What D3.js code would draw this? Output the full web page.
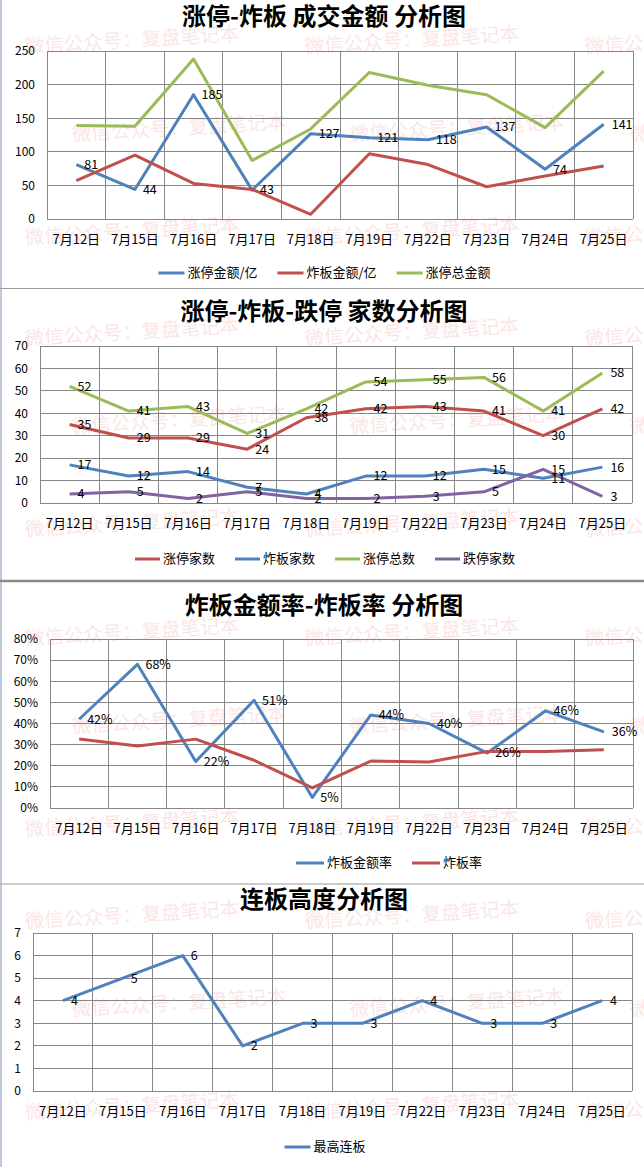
<!DOCTYPE html>
<html><head><meta charset="utf-8">
<script src="https://cdn.jsdelivr.net/npm/d3@7"></script>
<style>
html,body{margin:0;padding:0;background:#fff;}
svg{display:block;}
text{font-family:"Noto Sans CJK SC","Noto Sans",sans-serif;}
</style></head>
<body>
<svg id="c" width="644" height="1167"></svg>
<script>
// ---------- data ----------
const dates = ["7月12日","7月15日","7月16日","7月17日","7月18日","7月19日","7月22日","7月23日","7月24日","7月25日"];

const ztAmount      = [81, 44, 185, 43, 127, 121, 118, 137, 74, 141];   // 涨停金额/亿
const zbAmount      = [57, 95, 53, 44, 7, 97, 81, 48, 64, 79];          // 炸板金额/亿
const ztTotalAmount = [139, 138, 238, 87, 134, 218, 199, 185, 136, 220]; // 涨停总金额

const ztCount = [35, 29, 29, 24, 38, 42, 43, 41, 30, 42]; // 涨停家数
const zbCount = [17, 12, 14, 7, 4, 12, 12, 15, 11, 16];   // 炸板家数
const ztTotal = [52, 41, 43, 31, 42, 54, 55, 56, 41, 58]; // 涨停总数
const dtCount = [4, 5, 2, 5, 2, 2, 3, 5, 15, 3];          // 跌停家数

const zbAmountRate = [0.42, 0.68, 0.22, 0.51, 0.05, 0.44, 0.40, 0.26, 0.46, 0.36]; // 炸板金额率
const zbRate       = [0.327, 0.293, 0.326, 0.226, 0.095, 0.222, 0.218, 0.268, 0.268, 0.276]; // 炸板率

const maxBoard = [4, 5, 6, 2, 3, 3, 4, 3, 3, 4]; // 最高连板

const ticks1 = [0, 50, 100, 150, 200, 250];
const ticks2 = [0, 10, 20, 30, 40, 50, 60, 70];
const ticks3 = [0, 0.1, 0.2, 0.3, 0.4, 0.5, 0.6, 0.7, 0.8];
const ticks4 = [0, 1, 2, 3, 4, 5, 6, 7];

const titles = ["涨停-炸板 成交金额 分析图", "涨停-炸板-跌停 家数分析图", "炸板金额率-炸板率 分析图", "连板高度分析图"];
const watermark = "微信公众号：复盘笔记本";

const C = {blue:"#4F81BD", red:"#C0504D", green:"#9BBB59", purple:"#8064A2"};

const svg = d3.select("#c");

// page frame
svg.append("line").attr("x1",1).attr("x2",1).attr("y1",0).attr("y2",1167).attr("stroke","#a9b8cc").attr("stroke-width",1.5);
[[288.5,1.2,"#9a9a9a"],[581,2.5,"#8a8a8a"],[884,1.2,"#9a9a9a"]].forEach(([y,w,c])=>{
  svg.append("line").attr("x1",0).attr("x2",644).attr("y1",y).attr("y2",y).attr("stroke",c).attr("stroke-width",w);
});

function drawChart(cfg){
  const g = svg.append("g");
  // watermark
  const wm = g.append("g");
  const rows = [[50,[25,305,585]],[138,[72,350,630]],[241,[25,305,585]]];
  rows.forEach(([dy,xs])=>xs.forEach(x=>{
    const y = cfg.wmBase + dy;
    wm.append("text").attr("x",x).attr("y",y).attr("dominant-baseline","middle")
      .attr("transform",`rotate(-3.5,${x},${y})`)
      .attr("font-size",19.5).attr("fill","#fbe6e6").text(watermark);
  }));

  const {left,right,top,bottom} = cfg.plot;
  const x = d3.scaleBand().domain(dates).range([left,right]).paddingInner(0).paddingOuter(0);
  const y = d3.scaleLinear().domain(cfg.yDomain).range([bottom,top]);
  const cx = d => x(d) + x.bandwidth()/2;

  // title
  g.append("text").attr("x",324).attr("y",cfg.titleY).attr("text-anchor","middle").attr("dominant-baseline","middle")
    .attr("font-size",24).attr("font-weight","bold").attr("fill","#000").text(cfg.title);

  // grid
  const grid = g.append("g").attr("stroke","#878787").attr("stroke-width",1).attr("shape-rendering","crispEdges");
  cfg.ticks.forEach(t=>grid.append("line").attr("x1",left).attr("x2",right).attr("y1",y(t)).attr("y2",y(t)));
  const bounds = dates.map(d=>x(d)).concat([right]);
  bounds.forEach(b=>grid.append("line").attr("x1",b).attr("x2",b).attr("y1",top).attr("y2",bottom));

  // y axis labels
  const yAxis = d3.axisLeft(y).tickValues(cfg.ticks).tickFormat(cfg.fmt).tickSize(0).tickPadding(12);
  const ya = g.append("g").attr("transform",`translate(${left},0)`).call(yAxis);
  ya.select(".domain").remove();
  ya.selectAll("text").attr("font-size",12).attr("fill","#000").attr("font-family","'Noto Sans',sans-serif");

  // x axis labels
  const xAxis = d3.axisBottom(x).tickSize(0).tickPadding(0);
  const xa = g.append("g").attr("transform",`translate(0,${bottom+21})`).call(xAxis);
  xa.select(".domain").remove();
  xa.selectAll("text").attr("font-size",13).attr("fill","#000").attr("dy",null).attr("dominant-baseline","middle");

  // lines
  const line = d3.line().x((v,i)=>cx(dates[i])).y(v=>y(v));
  cfg.series.forEach(s=>{
    g.append("path").datum(s.values).attr("d",line).attr("fill","none")
      .attr("stroke",s.color).attr("stroke-width",3).attr("stroke-linejoin","round");
  });
  cfg.series.forEach(s=>{
    if(!s.labels) return;
    g.append("g").selectAll("text").data(s.values).join("text")
      .attr("x",(v,i)=>cx(dates[i])+8).attr("y",v=>y(v)+1)
      .attr("dominant-baseline","middle").attr("font-size",12.5).attr("fill","#000")
      .attr("font-family","'Noto Sans',sans-serif")
      .text(v=>cfg.labelFmt(v));
  });

  // legend
  const lg = g.append("g");
  const items = cfg.legendOrder.map(i=>cfg.series[i]);
  let cur = 0;
  items.forEach(s=>{
    const it = lg.append("g").attr("transform",`translate(${cur},0)`);
    it.append("line").attr("x1",0).attr("x2",cfg.legendLine).attr("y1",0).attr("y2",0).attr("stroke",s.color).attr("stroke-width",3);
    const t = it.append("text").attr("x",cfg.legendLine+3).attr("y",0).attr("dominant-baseline","middle")
      .attr("font-size",13).attr("fill","#000").text(s.name);
    const w = cfg.legendLine + 3 + t.node().getComputedTextLength();
    cur += w + 20;
  });
  const total = cur - 20;
  lg.attr("transform",`translate(${cfg.legendCenter - total/2},${bottom + cfg.legendDy})`);
}

drawChart({
  title:titles[0], titleY:18, wmBase:-2,
  plot:{left:47,right:633,top:51,bottom:219},
  yDomain:[0,250], ticks:ticks1, fmt:d3.format("d"), labelFmt:d3.format("d"),
  series:[
    {name:"涨停金额/亿", values:ztAmount, color:C.blue, labels:true},
    {name:"炸板金额/亿", values:zbAmount, color:C.red},
    {name:"涨停总金额", values:ztTotalAmount, color:C.green}
  ],
  legendOrder:[0,1,2], legendLine:26, legendCenter:324.5, legendDy:54
});

drawChart({
  title:titles[1], titleY:313, wmBase:290,
  plot:{left:40,right:632,top:346,bottom:503},
  yDomain:[0,70], ticks:ticks2, fmt:d3.format("d"), labelFmt:d3.format("d"),
  series:[
    {name:"涨停家数", values:ztCount, color:C.red, labels:true},
    {name:"炸板家数", values:zbCount, color:C.blue, labels:true},
    {name:"涨停总数", values:ztTotal, color:C.green, labels:true},
    {name:"跌停家数", values:dtCount, color:C.purple, labels:true}
  ],
  legendOrder:[0,1,2,3], legendLine:25, legendCenter:325, legendDy:56
});

drawChart({
  title:titles[2], titleY:607, wmBase:590,
  plot:{left:50,right:633,top:639,bottom:808},
  yDomain:[0,0.8], ticks:ticks3, fmt:d3.format(".0%"), labelFmt:d3.format(".0%"),
  series:[
    {name:"炸板金额率", values:zbAmountRate, color:C.blue, labels:true},
    {name:"炸板率", values:zbRate, color:C.red}
  ],
  legendOrder:[0,1], legendLine:28, legendCenter:389, legendDy:55
});

drawChart({
  title:titles[3], titleY:901, wmBase:873,
  plot:{left:33,right:632,top:933,bottom:1091},
  yDomain:[0,7], ticks:ticks4, fmt:d3.format("d"), labelFmt:d3.format("d"),
  series:[
    {name:"最高连板", values:maxBoard, color:C.blue, labels:true}
  ],
  legendOrder:[0], legendLine:26, legendCenter:325, legendDy:56
});
</script>
</body></html>
